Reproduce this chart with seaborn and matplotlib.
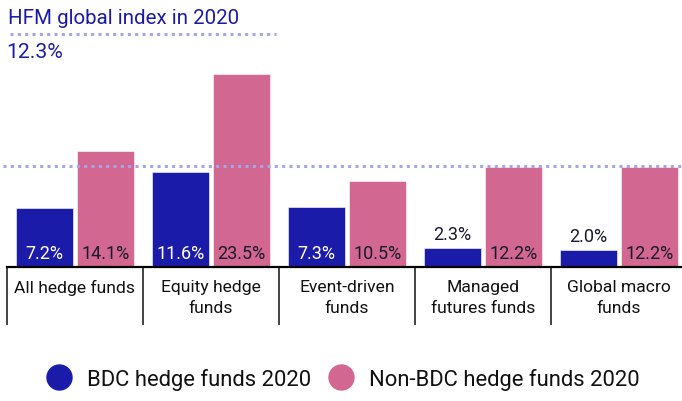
import matplotlib
matplotlib.use("Agg")
import matplotlib.pyplot as plt
import seaborn as sns
import pandas as pd
from matplotlib.lines import Line2D

categories = ["All hedge funds", "Equity hedge\nfunds", "Event-driven\nfunds",
              "Managed\nfutures funds", "Global macro\nfunds"]
series_names = ["BDC hedge funds 2020", "Non-BDC hedge funds 2020"]
bdc_values = [7.2, 11.6, 7.3, 2.3, 2.0]
non_bdc_values = [14.1, 23.5, 10.5, 12.2, 12.2]
index_value = 12.3
index_title = "HFM global index in 2020"

BLUE = "#1b1ba9"
PINK = "#d26791"
DOT = "#a6a6e6"
DARK = "#1a1a2a"

sns.set_theme(style="white")
plt.rcParams["font.family"] = ["Roboto", "DejaVu Sans"]

df = pd.DataFrame({
    "category": categories * 2,
    "series": [series_names[0]] * len(categories) + [series_names[1]] * len(categories),
    "value": bdc_values + non_bdc_values,
})

W, H = 682, 402
base_px = 267.7
px_per_unit = 8.2
fig = plt.figure(figsize=(W / 100, H / 100), dpi=100)
ax = fig.add_axes([7 / W, (H - base_px) / H, 680 / W, base_px / H])

sns.barplot(data=df, x="category", y="value", hue="series", order=categories,
            hue_order=series_names, palette=[BLUE, PINK], width=0.897, gap=0.065,
            saturation=1, errorbar=None, legend=False, ax=ax,
            edgecolor="white", linewidth=0.4)

ax.set_xlim(-0.5, len(categories) - 0.5)
ax.set_ylim(0, base_px / px_per_unit)
for s in ["top", "left", "right"]:
    ax.spines[s].set_visible(False)
ax.spines["bottom"].set_color("black")
ax.spines["bottom"].set_linewidth(1.6)
ax.set_yticks([])
ax.set_xlabel("")
ax.set_ylabel("")
ax.tick_params(axis="x", length=0, pad=9, labelsize=12.6, labelcolor="#111111")
for lab in ax.get_xticklabels():
    lab.set_linespacing(1.5)

# group separators
for i in range(len(categories) + 1):
    ax.plot([i - 0.5, i - 0.5], [0, -58.5 / base_px], transform=ax.get_xaxis_transform(),
            color="#222222", lw=1.2, clip_on=False, solid_capstyle="butt")

# index line
ax.axhline(index_value, xmin=-0.006, xmax=1, color=DOT, lw=2.2,
           linestyle=(0, (1.0, 1.4)), clip_on=False, zorder=3)

# value labels
for ci, cont in enumerate(ax.containers):
    for p in cont:
        v = p.get_height()
        xc = p.get_x() + p.get_width() / 2
        txt = f"{v:.1f}%"
        if v < 4:
            ax.annotate(txt, (xc, v), xytext=(0, 3.5), textcoords="offset points",
                        ha="center", va="bottom", fontsize=13, color=DARK)
        else:
            col = "white" if ci == 0 else DARK
            ax.annotate(txt, (xc, 0), xytext=(0, 3.2), textcoords="offset points",
                        ha="center", va="bottom", fontsize=13, color=col)

# header
fig.text(8 / W, 1 - 19 / H, index_title, ha="left", va="center", fontsize=14.8, color=BLUE)
fig.add_artist(Line2D([10 / W, 276 / W], [1 - 35 / H] * 2, color=DOT, lw=2.2,
                      linestyle=(0, (1.0, 1.4))))
fig.text(6 / W, 1 - 53 / H, f"{index_value}%", ha="left", va="center", fontsize=15.2, color=BLUE)

# legend
handles = [Line2D([], [], marker="o", linestyle="none", markersize=18, color=c)
           for c in [BLUE, PINK]]
fig.legend(handles, series_names, loc="center", bbox_to_anchor=(343 / W, 1 - 380 / H),
           ncol=2, frameon=False, fontsize=15.8, handletextpad=0.68, columnspacing=0.77,
           handlelength=1.2, labelcolor="#111111")

fig.savefig("out.png", dpi=100)
